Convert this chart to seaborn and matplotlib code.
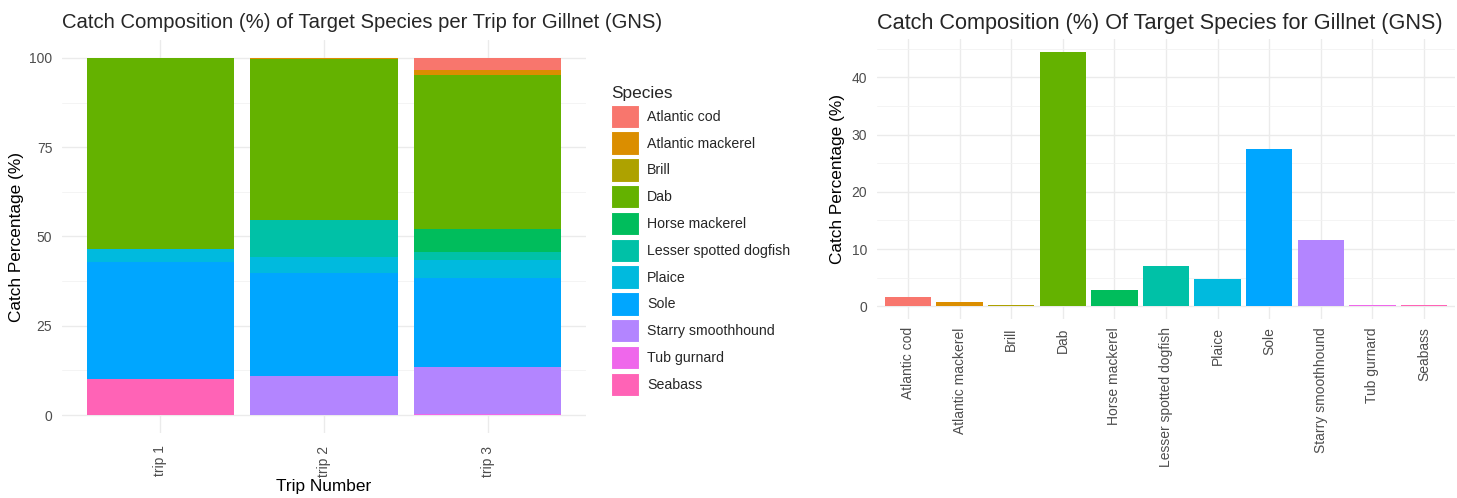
import matplotlib
matplotlib.use("Agg")
import matplotlib.pyplot as plt
from matplotlib.patches import Patch
import seaborn as sns
import pandas as pd
import numpy as np

species = ["Atlantic cod", "Atlantic mackerel", "Brill", "Dab", "Horse mackerel",
           "Lesser spotted dogfish", "Plaice", "Sole", "Starry smoothhound",
           "Tub gurnard", "Seabass"]
trips = ["trip 1", "trip 2", "trip 3"]

# per-trip catch composition (%), one value per species in the order above
trip1 = [0.0, 0.0, 0.0, 53.6, 0.0, 0.0, 3.4, 33.0, 0.0, 0.0, 10.0]
trip2 = [0.0, 0.4, 0.0, 45.0, 0.0, 10.3, 4.6, 28.8, 10.9, 0.0, 0.0]
trip3 = [3.5, 1.4, 0.0, 42.9, 6.4, 2.5, 5.0, 24.8, 13.2, 0.3, 0.0]

# overall catch composition (%)
overall = [1.6, 0.7, 0.3, 44.5, 2.8, 7.0, 4.8, 27.5, 11.5, 0.3, 0.3]

colors = ["#F8766D", "#DB8E00", "#AEA200", "#64B200", "#00BD5C", "#00C1A7",
          "#00BADE", "#00A6FF", "#B385FF", "#EF67EB", "#FF63B6"]
palette = dict(zip(species, colors))

rows = []
for t, vals in zip(trips, [trip1, trip2, trip3]):
    for s, v in zip(species, vals):
        rows.append({"Trip": t, "Species": s, "Pct": v})
df_trip = pd.DataFrame(rows)
df_all = pd.DataFrame({"Species": species, "Pct": overall})

sns.set_theme(style="whitegrid")
plt.rcParams["font.family"] = ["Liberation Sans", "DejaVu Sans"]

W, H = 1457, 498
fig = plt.figure(figsize=(W / 100, H / 100), dpi=100)
fig.patch.set_facecolor("white")

grid_major = dict(color="#EBEBEB", linewidth=1.0)
grid_minor = dict(color="#F2F2F2", linewidth=0.6)
tick_color = "#4D4D4D"

# ---------- left: stacked bars ----------
ax1 = fig.add_axes([62 / W, 1 - 433 / H, 524 / W, (433 - 40) / H])
sns.histplot(data=df_trip, x="Trip", weights="Pct", hue="Species",
             hue_order=species, palette=palette, multiple="stack",
             discrete=True, shrink=0.9, alpha=1, linewidth=0, legend=False,
             ax=ax1)
ax1.set_xlim(-0.6, 2.6)
ax1.set_ylim(-5, 105)
ax1.set_xticks(range(len(trips)))
ax1.set_xticklabels(trips, rotation=90, va="top", ha="center")
ax1.set_yticks([0, 25, 50, 75, 100])
ax1.set_yticks([12.5, 37.5, 62.5, 87.5], minor=True)
ax1.set_xlabel("Trip Number", fontsize=12.4, color="black", labelpad=2)
ax1.set_ylabel("Catch Percentage (%)", fontsize=12.4, color="black", labelpad=4)
ax1.set_title("Catch Composition (%) of Target Species per Trip for Gillnet (GNS)",
              fontsize=14.6, loc="left", x=-0.0, pad=9)

# ---------- right: overall bars ----------
ax2 = fig.add_axes([877 / W, 1 - 319 / H, 578 / W, (319 - 39) / H])
sns.barplot(data=df_all, x="Species", y="Pct", hue="Species", order=species,
            hue_order=species, palette=palette, width=0.9, saturation=1,
            legend=False, linewidth=0, ax=ax2)
ax2.set_xlim(-0.6, len(species) - 0.4)
ax2.set_ylim(-2.23, 46.7)
ax2.set_yticks([0, 10, 20, 30, 40])
ax2.set_yticks([5, 15, 25, 35, 45], minor=True)
ax2.set_xticks(range(len(species)))
ax2.set_xticklabels(species, rotation=90, va="top", ha="center")
ax2.set_xlabel("")
ax2.set_ylabel("Catch Percentage (%)", fontsize=12.4, color="black", labelpad=5)
ax2.set_title("Catch Composition (%) Of Target Species for Gillnet (GNS)",
              fontsize=15.6, loc="left", x=-0.0, pad=7)

for ax in (ax1, ax2):
    ax.set_facecolor("white")
    for sp in ax.spines.values():
        sp.set_visible(False)
    ax.set_axisbelow(True)
    ax.grid(True, which="major", **grid_major)
    ax.yaxis.grid(True, which="minor", **grid_minor)
    ax.tick_params(axis="both", which="both", length=0, labelsize=10,
                   labelcolor=tick_color)
    ax.tick_params(axis="y", pad=7)
ax1.tick_params(axis="x", pad=9)
ax2.tick_params(axis="x", pad=6)

# ---------- legend ----------
handles = [Patch(facecolor=palette[s], edgecolor="white", linewidth=0.8)
           for s in species]
leg = fig.legend(handles, species, title="Species", loc="upper left",
                 bbox_to_anchor=(604 / W, 1 - 79 / H), frameon=False,
                 fontsize=10.2, title_fontsize=12.4, handlelength=1.95,
                 handleheight=2.15, labelspacing=0.25, handletextpad=0.6,
                 borderpad=0, alignment="left")

fig.savefig("out.png", dpi=100, facecolor="white")
